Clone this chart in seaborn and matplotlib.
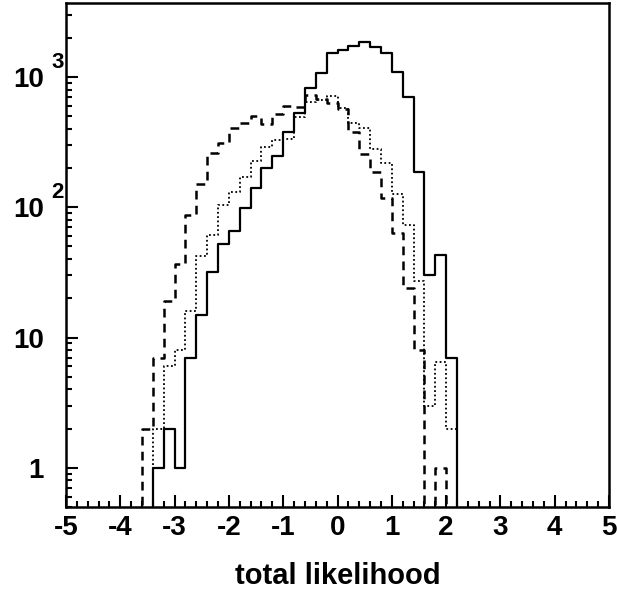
import numpy as np
import pandas as pd
import matplotlib
matplotlib.use("Agg")
import matplotlib.pyplot as plt
import matplotlib.transforms as mtransforms
from matplotlib.ticker import FixedLocator, LogLocator, MultipleLocator, NullFormatter
import seaborn as sns

# =========================
# data: counts in 0.2 wide bins from -5 to 5
# =========================
bin_edges = np.round(np.linspace(-5.0, 5.0, 51), 1)

solid_start = -3.4
solid_counts = [1, 2, 1, 7, 15, 32, 52, 66, 98, 141, 199, 248, 380, 526, 819,
                1079, 1538, 1614, 1741, 1849, 1710, 1538, 1099, 705, 185, 30, 43, 7]

dashed_start = -3.6
dashed_counts = [2, 7, 19, 37, 87, 152, 260, 313, 405, 447, 501, 437, 522, 600,
                 590, 732, 673, 635, 564, 380, 256, 187, 118, 63, 24, 8, 0, 1]

dotted_start = -3.4
dotted_counts = [2, 6, 8, 16, 42, 61, 105, 130, 172, 226, 290, 330, 332, 490,
                 640, 670, 710, 574, 440, 403, 278, 218, 126, 73, 27, 3, 6.5, 2]

y_ticks = [1, 10, 100, 1000]
y_ticklabels = ["1", "10", "10", "10"]
y_superscripts = {100: "2", 1000: "3"}


def full_hist(start, counts):
    arr = np.zeros(len(bin_edges) - 1)
    i0 = int(round((start - bin_edges[0]) / 0.2))
    arr[i0:i0 + len(counts)] = counts
    # repeat last value for steps-post, empty bins drop to frame bottom
    arr = np.append(arr, arr[-1])
    return np.where(arr > 0, arr, 1e-3)


# =========================
# style
# =========================
sns.set_style("white")
plt.rcParams["font.family"] = ["Liberation Sans", "DejaVu Sans"]
plt.rcParams["font.weight"] = "bold"
plt.rcParams["axes.unicode_minus"] = False
plt.rcParams["text.color"] = "black"
plt.rcParams["xtick.color"] = "black"
plt.rcParams["ytick.color"] = "black"
plt.rcParams["axes.labelcolor"] = "black"

fig = plt.figure(figsize=(6.17, 5.94), dpi=100)
ax = fig.add_axes([66 / 617, 87 / 594, 543 / 617, 504 / 594])
ax.set_yscale("log")

sns.lineplot(x=bin_edges, y=full_hist(solid_start, solid_counts), ax=ax,
             drawstyle="steps-post", color="black", lw=1.6, estimator=None)
sns.lineplot(x=bin_edges, y=full_hist(dashed_start, dashed_counts), ax=ax,
             drawstyle="steps-post", color="black", lw=1.8,
             linestyle=(0, (3.5, 2.5)), estimator=None)
sns.lineplot(x=bin_edges, y=full_hist(dotted_start, dotted_counts), ax=ax,
             drawstyle="steps-post", color="black", lw=1.3,
             linestyle=(0, (1, 1.4)), estimator=None)

ax.set_xlim(-5, 5)
ax.set_ylim(0.5, 3700)

ax.xaxis.set_major_locator(MultipleLocator(1))
ax.xaxis.set_minor_locator(MultipleLocator(0.2))
ax.yaxis.set_major_locator(FixedLocator(y_ticks))
ax.yaxis.set_minor_locator(LogLocator(base=10, subs=np.arange(2, 10)))
ax.yaxis.set_minor_formatter(NullFormatter())
ax.set_yticklabels(y_ticklabels)

ax.tick_params(which="both", direction="in", bottom=True, left=True,
               top=False, right=False, width=1.5, color="black")
ax.tick_params(which="major", length=8.5)
ax.tick_params(which="minor", length=4.3)
ax.tick_params(axis="x", labelsize=20, pad=6)
ax.tick_params(axis="y", labelsize=20, pad=16)
for lab in ax.get_xticklabels() + ax.get_yticklabels():
    lab.set_fontweight("bold")

trans = mtransforms.blended_transform_factory(ax.transAxes, ax.transData)
for val, sup in y_superscripts.items():
    ax.annotate(sup, xy=(0, val), xycoords=trans, xytext=(-6, 10.5),
                textcoords="offset points", ha="center", va="center",
                fontsize=16, fontweight="bold")

for sp in ax.spines.values():
    sp.set_linewidth(1.8)
    sp.set_color("black")

ax.set_xlabel("total likelihood", fontsize=21, fontweight="bold", labelpad=15)
ax.set_ylabel("")

fig.savefig("out.png", dpi=100)
